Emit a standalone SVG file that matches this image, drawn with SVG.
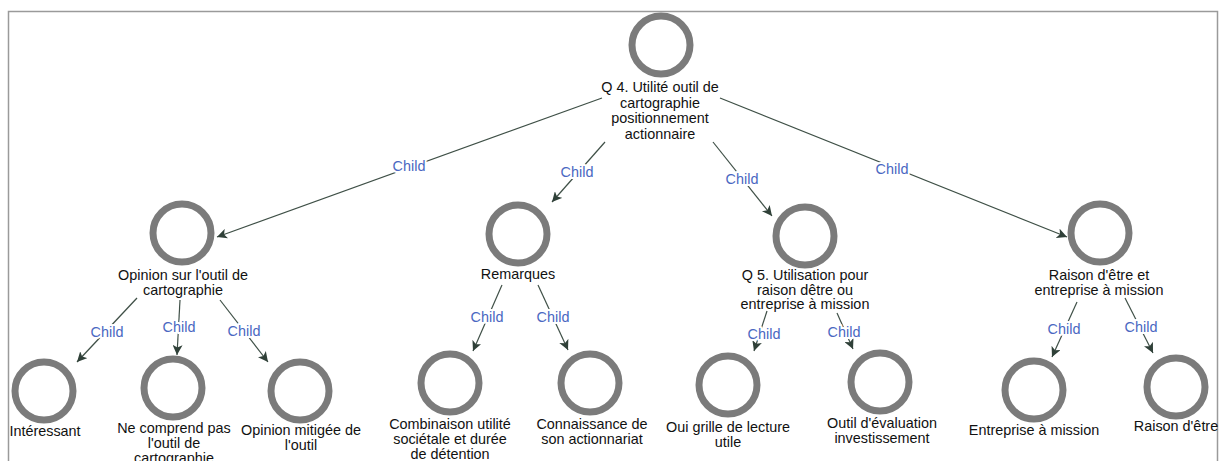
<svg xmlns="http://www.w3.org/2000/svg" width="1221" height="461" viewBox="0 0 1221 461">
  <style>
    .node circle { fill: none; stroke: #7b7b7b; stroke-width: 7; }
    .node text { font-family: "Liberation Sans", Arial, sans-serif; font-size: 14.4px; fill: #111; text-anchor: middle; }
    .edges line { stroke: #3f5047; stroke-width: 1.2; marker-end: url(#arrow); }
    .edges text { font-family: "Liberation Sans", Arial, sans-serif; font-size: 14.4px; fill: #4a68c2; text-anchor: middle; stroke: #fff; stroke-width: 4; paint-order: stroke; stroke-linejoin: round; }
  </style>
  <defs>
    <marker id="arrow" viewBox="0 0 10 10" refX="10" refY="5" markerWidth="10" markerHeight="10" markerUnits="userSpaceOnUse" orient="auto">
      <path d="M0,0 L10,5 L0,10 L2.5,5 z" fill="#2f4038"/>
    </marker>
  </defs>
  <rect x="0" y="0" width="1221" height="461" fill="#fff"/>
  <rect x="8.5" y="11.5" width="1209" height="470" fill="none" stroke="#9a9a9a" stroke-width="1.5"/>

  <g class="edges">
    <line x1="602" y1="98" x2="217" y2="237"/>
    <line x1="605" y1="142" x2="552" y2="202"/>
    <line x1="713" y1="142" x2="772" y2="216"/>
    <line x1="720" y1="98" x2="1067" y2="237"/>
    <line x1="137" y1="298" x2="77" y2="362"/>
    <line x1="180" y1="300" x2="177" y2="355"/>
    <line x1="220" y1="300" x2="268" y2="362"/>
    <line x1="502" y1="285" x2="473" y2="351"/>
    <line x1="538" y1="285" x2="568" y2="350"/>
    <line x1="767" y1="311" x2="754" y2="351"/>
    <line x1="837" y1="313" x2="853" y2="349"/>
    <line x1="1077" y1="302" x2="1052" y2="357"/>
    <line x1="1125" y1="298" x2="1153" y2="353"/>
    <text x="409" y="171">Child</text>
    <text x="577" y="177">Child</text>
    <text x="742" y="184">Child</text>
    <text x="892" y="174">Child</text>
    <text x="107" y="337">Child</text>
    <text x="179" y="332">Child</text>
    <text x="244" y="336">Child</text>
    <text x="487" y="322">Child</text>
    <text x="553" y="322">Child</text>
    <text x="764" y="339">Child</text>
    <text x="844" y="337">Child</text>
    <text x="1064" y="334">Child</text>
    <text x="1141" y="332">Child</text>
  </g>

  <g id="n-root" class="node">
    <circle cx="661" cy="45" r="29"/>
    <text x="660" y="92">Q 4. Utilité outil de</text>
    <text x="660" y="107.5">cartographie</text>
    <text x="660" y="123">positionnement</text>
    <text x="660" y="138.5">actionnaire</text>
  </g>
  <g id="n-opinion" class="node">
    <circle cx="182" cy="233" r="29"/>
    <text x="183" y="280">Opinion sur l'outil de</text>
    <text x="183" y="295">cartographie</text>
  </g>
  <g id="n-remarques" class="node">
    <circle cx="518" cy="234" r="29"/>
    <text x="518" y="279">Remarques</text>
  </g>
  <g id="n-q5" class="node">
    <circle cx="805" cy="236" r="29"/>
    <text x="805" y="280">Q 5. Utilisation pour</text>
    <text x="805" y="294.5">raison dêtre ou</text>
    <text x="805" y="309">entreprise à mission</text>
  </g>
  <g id="n-raison-mission" class="node">
    <circle cx="1100" cy="233" r="29"/>
    <text x="1099" y="280">Raison d'être et</text>
    <text x="1099" y="295">entreprise à mission</text>
  </g>
  <g id="n-interessant" class="node">
    <circle cx="44" cy="391" r="29"/>
    <text x="45" y="436">Intéressant</text>
  </g>
  <g id="n-ne-comprend" class="node">
    <circle cx="173" cy="388" r="29"/>
    <text x="174" y="433">Ne comprend pas</text>
    <text x="174" y="448">l'outil de</text>
    <text x="174" y="463">cartographie</text>
  </g>
  <g id="n-mitigee" class="node">
    <circle cx="300" cy="391" r="29"/>
    <text x="301" y="435">Opinion mitigée de</text>
    <text x="301" y="450">l'outil</text>
  </g>
  <g id="n-combinaison" class="node">
    <circle cx="450" cy="383" r="29"/>
    <text x="450" y="429">Combinaison utilité</text>
    <text x="450" y="444">sociétale et durée</text>
    <text x="450" y="459">de détention</text>
  </g>
  <g id="n-connaissance" class="node">
    <circle cx="590" cy="383" r="29"/>
    <text x="592" y="429">Connaissance de</text>
    <text x="592" y="444">son actionnariat</text>
  </g>
  <g id="n-oui-grille" class="node">
    <circle cx="728" cy="385" r="29"/>
    <text x="728" y="432">Oui grille de lecture</text>
    <text x="728" y="447">utile</text>
  </g>
  <g id="n-outil-eval" class="node">
    <circle cx="880" cy="382" r="29"/>
    <text x="882" y="428">Outil d'évaluation</text>
    <text x="882" y="443">investissement</text>
  </g>
  <g id="n-entreprise" class="node">
    <circle cx="1034" cy="390" r="29"/>
    <text x="1034" y="435">Entreprise à mission</text>
  </g>
  <g id="n-raison" class="node">
    <circle cx="1176" cy="387" r="29"/>
    <text x="1176" y="431">Raison d'être</text>
  </g>
</svg>
